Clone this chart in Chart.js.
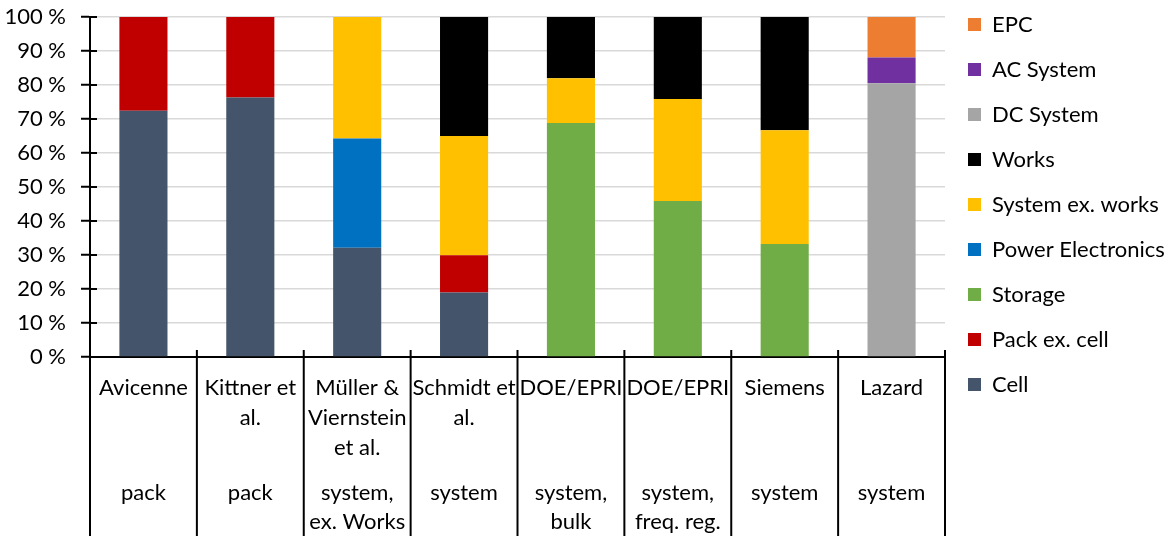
<!DOCTYPE html>
<html>
<head>
<meta charset="utf-8">
<script src="https://cdn.jsdelivr.net/npm/chart.js@4.4.1/dist/chart.umd.min.js"></script>
<style>
  html, body { margin: 0; padding: 0; background: #fff; }
  #wrap { width: 1176px; height: 536px; }
</style>
</head>
<body>
<div id="wrap"><canvas id="c" width="1176" height="536"></canvas></div>
<script>
// Study names (first label row) and cost scope (second label row)
const sources = [
  ["Avicenne"],
  ["Kittner et", "al."],
  ["Müller &", "Viernstein", "et al."],
  ["Schmidt et", "al."],
  ["DOE/EPRI"],
  ["DOE/EPRI"],
  ["Siemens"],
  ["Lazard"]
];
const scopes = [
  ["pack"],
  ["pack"],
  ["system,", "ex. Works"],
  ["system"],
  ["system,", "bulk"],
  ["system,", "freq. reg."],
  ["system"],
  ["system"]
];

// Cost shares in percent, one entry per study (null = not reported)
const cell             = [72.4, 76.3, 32.1, 19.0, null, null, null, null];
const packExCell       = [27.6, 23.7, null, 10.9, null, null, null, null];
const storage          = [null, null, null, null, 68.8, 45.9, 33.2, null];
const powerElectronics = [null, null, 32.2, null, null, null, null, null];
const systemExWorks    = [null, null, 35.7, 35.1, 13.2, 30.0, 33.5, null];
const works            = [null, null, null, 35.0, 18.0, 24.1, 33.3, null];
const dcSystem         = [null, null, null, null, null, null, null, 80.5];
const acSystem         = [null, null, null, null, null, null, null, 7.6];
const epc              = [null, null, null, null, null, null, null, 11.9];

const yTicks = [0, 10, 20, 30, 40, 50, 60, 70, 80, 90, 100];

const FONT = "Lato, 'Open Sans', sans-serif";
const FS = 22;

const series = [
  { label: "Cell",              data: cell,             color: "#44546A" },
  { label: "Pack ex. cell",     data: packExCell,       color: "#C00000" },
  { label: "Storage",           data: storage,          color: "#70AD47" },
  { label: "Power Electronics", data: powerElectronics, color: "#0070C0" },
  { label: "System ex. works",  data: systemExWorks,    color: "#FFC000" },
  { label: "Works",             data: works,            color: "#000000" },
  { label: "DC System",         data: dcSystem,         color: "#A5A5A5" },
  { label: "AC System",         data: acSystem,         color: "#7030A0" },
  { label: "EPC",               data: epc,              color: "#ED7D31" }
];

// Legend geometry: right column begins where the plot ends
const PLOT_LEFT = 90, PLOT_RIGHT = 945, PAD_TOP = 17;
const LEG_PAD = 23, LEG_BOX = 13;
const mctx = document.createElement("canvas").getContext("2d");
mctx.font = FS + "px " + FONT;
const maxText = Math.max(...series.map(s => mctx.measureText(s.label).width));
const legendWidth = LEG_PAD + LEG_BOX + FS / 2 + maxText + 10;
const padRight = Math.max(0, 1176 - PLOT_RIGHT - legendWidth);

// Category separators below the axis and the inner halves of the tick marks
const axisDecor = {
  id: "axisDecor",
  afterLayout(chart) {
    // lift the legend column so its first entry sits level with the top gridline
    const lg = chart.legend;
    if (lg) { const d = 26.5; lg.top -= d; lg.bottom -= d; }
  },
  afterDraw(chart) {
    const ctx = chart.ctx;
    const xs = chart.scales.x, ys = chart.scales.y;
    const area = chart.chartArea;
    const n = sources.length;
    ctx.save();
    ctx.strokeStyle = "#000";
    ctx.lineWidth = 2;
    for (let i = 0; i <= n; i++) {
      let x;
      if (i === 0) x = xs.left;
      else if (i === n) x = xs.right;
      else x = (xs.getPixelForValue(i - 1) + xs.getPixelForValue(i)) / 2;
      ctx.beginPath();
      ctx.moveTo(x, area.bottom - 7);
      ctx.lineTo(x, chart.height);
      ctx.stroke();
    }
    for (const t of ys.ticks) {
      const y = ys.getPixelForValue(t.value);
      ctx.beginPath();
      ctx.moveTo(ys.right, y);
      ctx.lineTo(ys.right + 7, y);
      ctx.stroke();
    }
    ctx.restore();
  }
};

new Chart(document.getElementById("c"), {
  type: "bar",
  data: {
    labels: sources,
    datasets: series.map(s => ({
      label: s.label,
      data: s.data,
      backgroundColor: s.color,
      borderWidth: 0,
      categoryPercentage: 1.0,
      barPercentage: 0.45
    }))
  },
  options: {
    responsive: false,
    devicePixelRatio: 1,
    animation: false,
    layout: { padding: { top: PAD_TOP, right: padRight, left: 0, bottom: 0 } },
    plugins: {
      tooltip: { enabled: false },
      legend: {
        position: "right",
        align: "start",
        reverse: true,
        labels: {
          boxWidth: LEG_BOX,
          boxHeight: LEG_BOX,
          padding: LEG_PAD,
          color: "#000",
          font: { family: FONT, size: FS }
        }
      }
    },
    scales: {
      x: {
        stacked: true,
        offset: true,
        grid: { display: false, drawTicks: false, offset: true },
        border: { display: true, color: "#000", width: 2 },
        ticks: {
          color: "#000",
          font: { family: FONT, size: FS, lineHeight: "30px" },
          padding: 16,
          maxRotation: 0,
          autoSkip: false
        },
        afterFit(scale) { scale.height = 105; }
      },
      x2: {
        type: "category",
        axis: "x",
        position: "bottom",
        labels: scopes,
        offset: true,
        grid: { display: false, drawTicks: false },
        border: { display: false },
        ticks: {
          color: "#000",
          font: { family: FONT, size: FS, lineHeight: "29px" },
          padding: 16.5,
          maxRotation: 0,
          autoSkip: false
        },
        afterFit(scale) { scale.height = 74; }
      },
      y: {
        stacked: true,
        min: 0,
        max: 100,
        afterBuildTicks(scale) { scale.ticks = yTicks.map(v => ({ value: v })); },
        grid: {
          color: ctx => (ctx.tick && ctx.tick.value === 0) ? "rgba(0,0,0,0)" : "#D9D9D9",
          lineWidth: 1.5,
          tickColor: "#000",
          tickLength: 9,
          tickWidth: 2
        },
        border: { display: true, color: "#000", width: 2 },
        ticks: {
          color: "#000",
          font: { family: FONT, size: FS },
          padding: 15,
          callback: v => v + " %"
        },
        afterFit(scale) {
          scale.width = PLOT_LEFT;
          scale.paddingTop = 0;
          scale.paddingBottom = 0;
        }
      }
    }
  },
  plugins: [axisDecor]
});
</script>
</body>
</html>
